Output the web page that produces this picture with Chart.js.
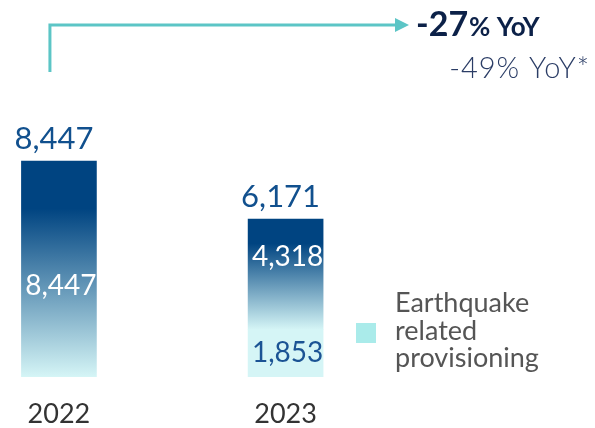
<!DOCTYPE html>
<html>
<head>
<meta charset="utf-8">
<title>Provisions 2022 vs 2023</title>
<script src="https://cdn.jsdelivr.net/npm/chart.js@4.4.1/dist/chart.umd.min.js"></script>
<style>
  html, body { margin: 0; padding: 0; background: #ffffff; }
  #wrap { width: 595px; height: 428px; }
</style>
</head>
<body>
<div id="wrap"><canvas id="provisions" width="595" height="428"></canvas></div>
<script>
// Values, in millions
const years = ['2022', '2023'];
const underlying = [8447, 4318];   // provisions excluding the earthquake
const earthquake = [0, 1853];      // earthquake related provisioning
const legendLabel = 'Earthquake related provisioning';

const FONT = 'Lato, "Open Sans", sans-serif';
const NAVY = '#004481';
const PALE = '#d5f5f6';
const AQUA = '#aaebea';
const TEAL = '#5cc5c6';

const totals = years.map((_, i) => underlying[i] + earthquake[i]);
const fmt = v => v.toLocaleString('en-US');
const yoy = (from, to) => Math.round((to / from - 1) * 100);

// Vertical fade from navy to pale cyan across a bar segment
function fadeFill(context) {
  const chart = context.chart;
  if (!chart.chartArea) return NAVY;
  const i = context.dataIndex;
  const y = chart.scales.y;
  const top = y.getPixelForValue(earthquake[i] + underlying[i]);
  const bottom = y.getPixelForValue(earthquake[i]);
  const g = chart.ctx.createLinearGradient(0, top, 0, bottom);
  g.addColorStop(0, NAVY);
  g.addColorStop(0.22, NAVY);
  g.addColorStop(1, PALE);
  return g;
}

const overlay = {
  id: 'overlay',
  afterDatasetsDraw(chart, args, opts) {
    const ctx = chart.ctx;
    const quake = chart.getDatasetMeta(0).data;
    const core = chart.getDatasetMeta(1).data;

    ctx.save();
    ctx.textAlign = 'center';
    ctx.textBaseline = 'alphabetic';

    // labels inside the segments
    core.forEach((bar, i) => {
      ctx.font = `28px ${FONT}`;
      ctx.fillStyle = '#ffffff';
      const f = opts.coreLabelAt[i];
      ctx.fillText(fmt(underlying[i]), bar.x + 2, bar.y + (bar.base - bar.y) * f);
    });
    quake.forEach((bar, i) => {
      if (!earthquake[i]) return;
      ctx.font = `28px ${FONT}`;
      ctx.fillStyle = '#1b5394';
      ctx.fillText(fmt(earthquake[i]), bar.x + 2, bar.y + (bar.base - bar.y) * opts.quakeLabelAt);
    });

    // totals above each stack
    core.forEach((bar, i) => {
      ctx.font = `31px ${FONT}`;
      ctx.fillStyle = '#11508e';
      ctx.fillText(fmt(totals[i]), bar.x - 5, bar.y - 12);
    });

    // legend entry for the earthquake series
    const lg = opts.legend;
    ctx.fillStyle = AQUA;
    ctx.fillRect(lg.x, lg.y, lg.size, lg.size);
    ctx.font = `27px ${FONT}`;
    ctx.fillStyle = '#555555';
    ctx.textAlign = 'left';
    legendLabel.split(' ').forEach((word, k) => {
      ctx.fillText(word, lg.textX, lg.firstBaseline + k * lg.lineStep);
    });

    // year-on-year connector from the 2022 stack
    const a = opts.arrow;
    const startX = core[0].x - 9;
    ctx.strokeStyle = TEAL;
    ctx.fillStyle = TEAL;
    ctx.lineWidth = 3;
    ctx.beginPath();
    ctx.moveTo(startX, a.bottom);
    ctx.lineTo(startX, a.level);
    ctx.lineTo(a.tip - 12, a.level);
    ctx.stroke();
    ctx.beginPath();
    ctx.moveTo(a.tip - 14, a.level - 7);
    ctx.lineTo(a.tip, a.level);
    ctx.lineTo(a.tip - 14, a.level + 7);
    ctx.closePath();
    ctx.fill();

    // headline change, total and excluding the earthquake
    const head = `${yoy(totals[0], totals[1])}`;
    ctx.fillStyle = '#0c2148';
    ctx.font = `bold 34px ${FONT}`;
    ctx.fillText(head, a.tip + 7, 36);
    const w = ctx.measureText(head).width;
    ctx.font = `bold 26px ${FONT}`;
    ctx.fillText('% YoY', a.tip + 8 + w, 36);

    ctx.textAlign = 'right';
    ctx.fillStyle = '#2b3d66';
    ctx.font = `300 29px ${FONT}`;
    ctx.letterSpacing = '1px';
    ctx.fillText(`${yoy(underlying[0], underlying[1])}% YoY*`, 590, 78);
    ctx.restore();
  }
};

new Chart(document.getElementById('provisions'), {
  type: 'bar',
  data: {
    datasets: [
      {
        label: legendLabel,
        data: earthquake.map((v, i) => ({ x: i, y: v })),
        backgroundColor: PALE,
        barThickness: 75,
      },
      {
        label: 'Provisions',
        data: underlying.map((v, i) => ({ x: i, y: v })),
        backgroundColor: fadeFill,
        barThickness: 75,
      },
    ],
  },
  options: {
    responsive: false,
    animation: false,
    layout: { padding: 0 },
    plugins: {
      legend: { display: false },
      tooltip: { enabled: false },
      overlay: {
        coreLabelAt: [0.62, 0.42],
        quakeLabelAt: 0.69,
        legend: { x: 356, y: 323, size: 20, textX: 395, firstBaseline: 312, lineStep: 27.5 },
        arrow: { bottom: 72, level: 25, tip: 409 },
      },
    },
    scales: {
      x: {
        type: 'linear',
        stacked: true,
        offset: false,
        min: -0.26,
        max: 2.365,
        grid: { display: false },
        border: { display: false },
        afterBuildTicks: scale => {
          scale.ticks = years.map((_, i) => ({ value: i }));
        },
        afterFit: scale => { scale.height = 51; },
        ticks: {
          padding: 13,
          color: '#333333',
          font: { family: FONT, size: 27 },
          callback: v => years[v],
        },
      },
      y: {
        stacked: true,
        display: false,
        min: 0,
        max: 14743,
      },
    },
  },
  plugins: [overlay],
});
</script>
</body>
</html>
